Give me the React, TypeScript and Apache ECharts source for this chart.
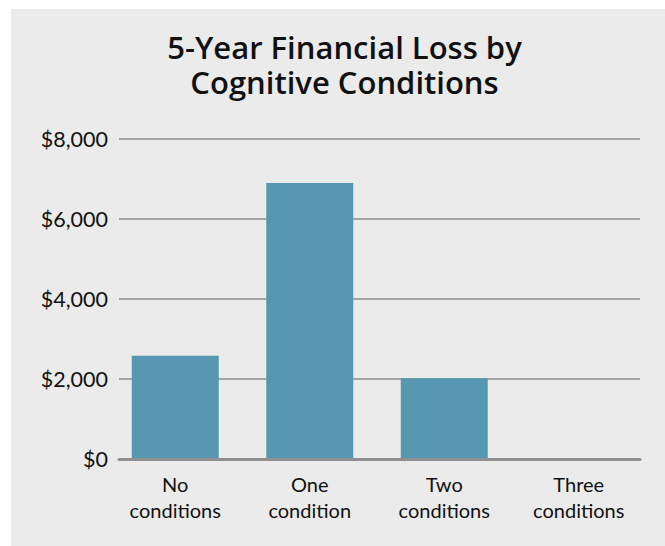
import React, { useEffect, useRef } from "react";
import * as echarts from "echarts";

const titleLines = ["5-Year Financial Loss by", "Cognitive Conditions"];
const categories = ["No conditions", "One condition", "Two conditions", "Three conditions"];
const lossValues = [2580, 6900, 2020, 0];
const yTicks = { min: 0, max: 8000, interval: 2000 };

export default function App() {
  const ref = useRef<HTMLDivElement>(null);
  useEffect(() => {
    if (!ref.current) return;
    const chart = echarts.init(ref.current, undefined, { renderer: "svg" });
    const font = "Lato, 'Open Sans', sans-serif";
    chart.setOption({
      animation: false,
      backgroundColor: "#ffffff",
      graphic: [
        {
          type: "rect",
          shape: { x: 11, y: 9, width: 654, height: 537 },
          style: { fill: "#ebebeb" },
          z: -10,
          silent: true,
        },
      ],
      title: titleLines.map((t, i) => ({
        text: t,
        left: 344.5,
        textAlign: "center",
        top: 31 + i * 35,
        padding: 0,
        textStyle: {
          fontFamily: "'Open Sans', Lato, sans-serif",
          fontWeight: 600,
          fontSize: 31,
          lineHeight: 31,
          color: "#111111",
        },
      })),
      grid: [
        { left: 119, right: 25, top: 139, bottom: 87 },
        { left: 108, right: 19, top: 139, bottom: 87 },
      ],
      xAxis: [
        {
          type: "category",
          gridIndex: 0,
          data: categories,
          axisLine: { show: true, lineStyle: { color: "#8f8f8f", width: 3 } },
          axisTick: { show: false },
          axisLabel: { show: false },
          splitLine: { show: false },
          z: 5,
        },
        {
          type: "category",
          gridIndex: 1,
          data: categories,
          axisLine: { show: false },
          axisTick: { show: false },
          axisLabel: {
            margin: 12,
            fontFamily: font,
            fontSize: 20,
            lineHeight: 26,
            color: "#111111",
            interval: 0,
            formatter: (v: string) => v.replace(" ", "\n"),
          },
        },
      ],
      yAxis: [
        {
          type: "value",
          gridIndex: 0,
          min: yTicks.min,
          max: yTicks.max,
          interval: yTicks.interval,
          axisLine: { show: false },
          axisTick: { show: false },
          axisLabel: {
            margin: 11,
            fontFamily: font,
            fontSize: 21.5,
            color: "#111111",
            formatter: (v: number) => "$" + v.toLocaleString("en-US"),
          },
          splitLine: { show: true, lineStyle: { color: "#a5a5a5", width: 2 } },
        },
        {
          type: "value",
          gridIndex: 1,
          min: yTicks.min,
          max: yTicks.max,
          interval: yTicks.interval,
          show: false,
          splitLine: { show: false },
        },
      ],
      series: [
        {
          type: "bar",
          xAxisIndex: 1,
          yAxisIndex: 1,
          data: lossValues,
          barWidth: 87,
          itemStyle: { color: "#5698b1" },
          z: 3,
        },
      ],
    });
    return () => chart.dispose();
  }, []);
  return (
    <div
      ref={ref}
      style={{ position: "fixed", left: 0, top: 0, width: 665, height: 546 }}
    />
  );
}
